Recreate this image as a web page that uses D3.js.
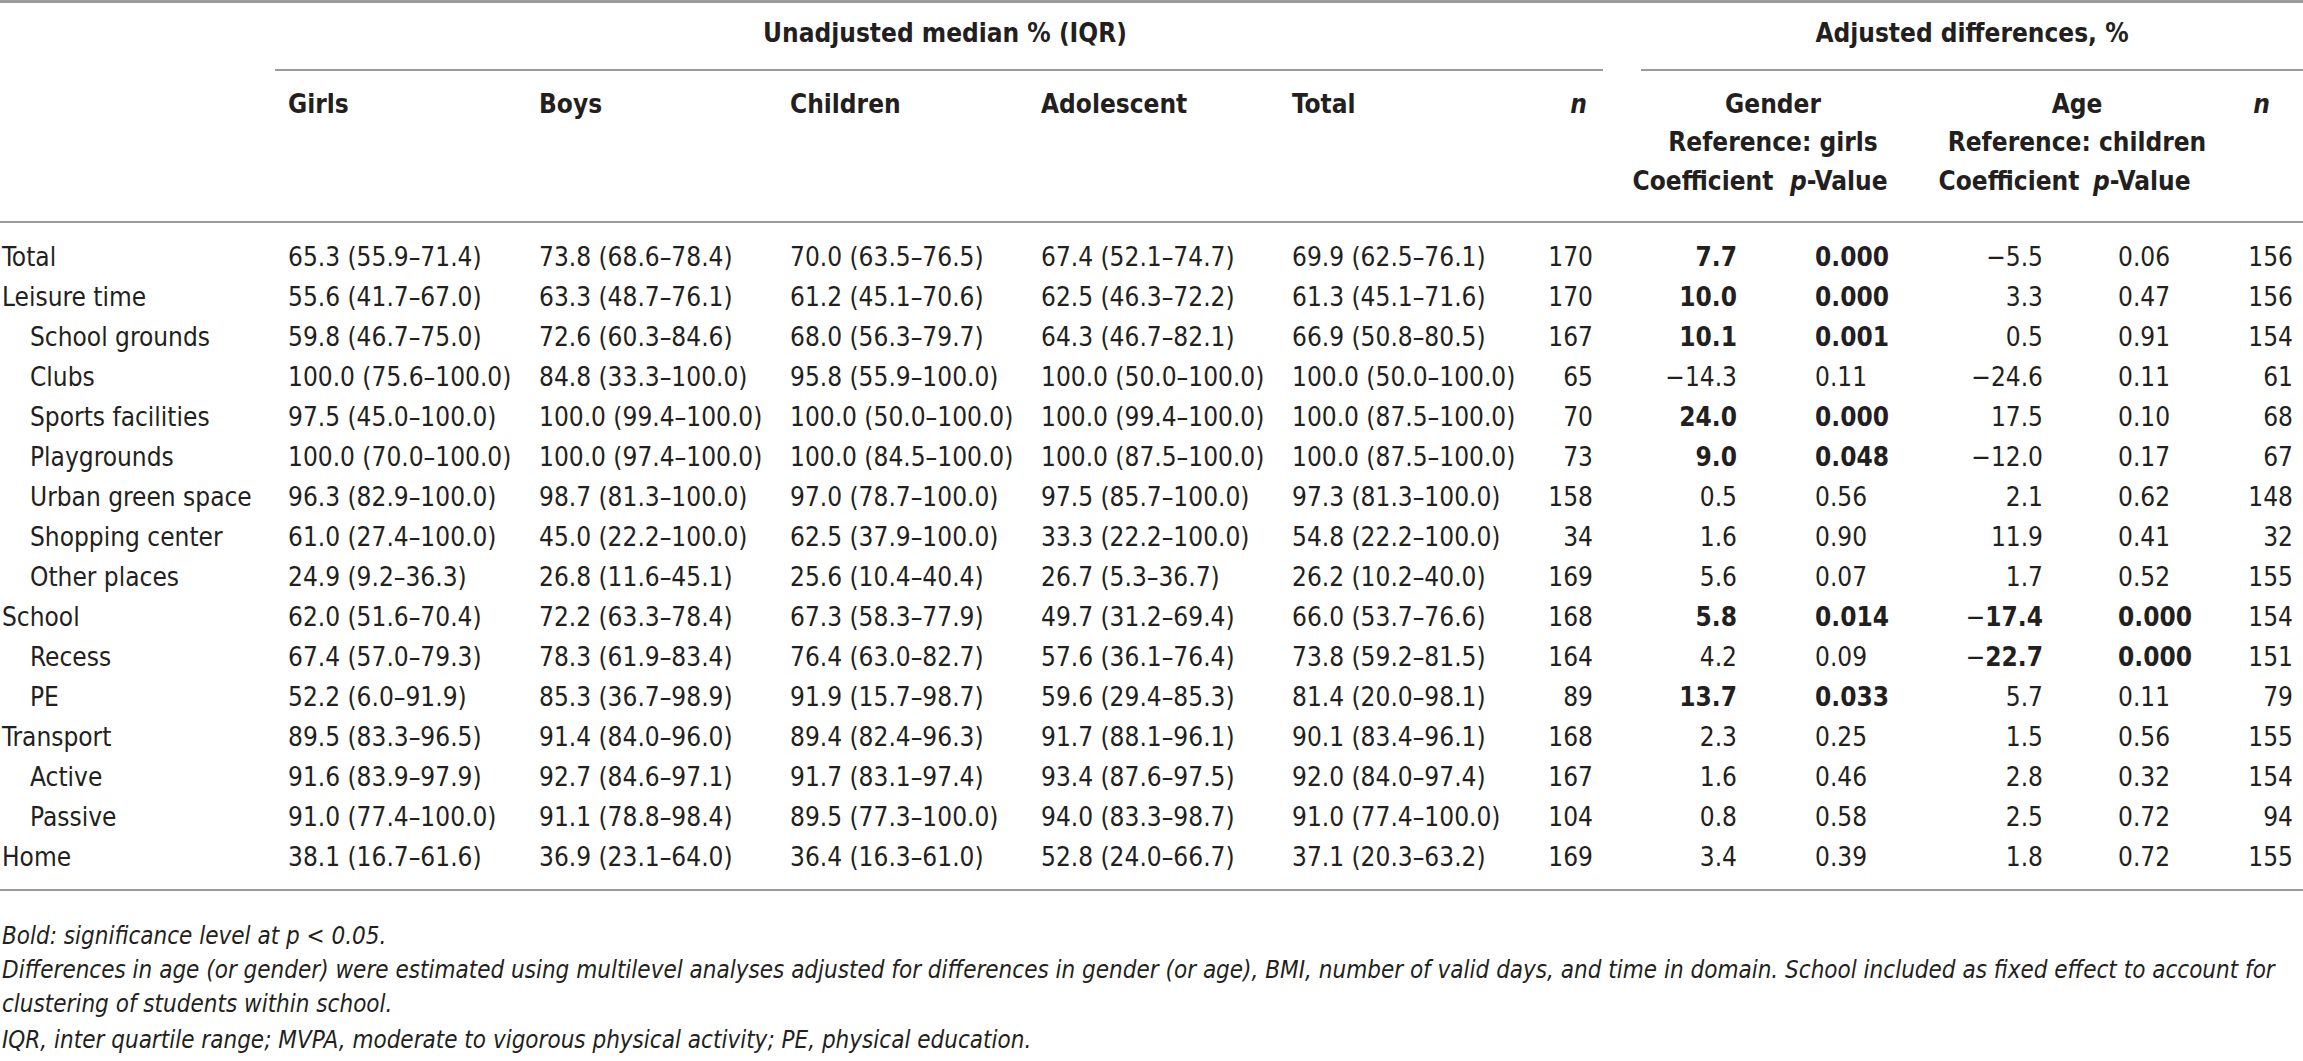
<!DOCTYPE html>
<html>
<head>
<meta charset="utf-8">
<script src="https://cdn.jsdelivr.net/npm/d3@7"></script>
<style>
  html, body { margin: 0; padding: 0; background: #fff; }
  svg { display: block; font-family: "Liberation Sans Narrow", "Arial Narrow", "DejaVu Sans Condensed", sans-serif; }
</style>
</head>
<body>
<div id="chart"></div>
<script>
// table contents
const rowLabels = ['Total', 'Leisure time', 'School grounds', 'Clubs', 'Sports facilities', 'Playgrounds',
  'Urban green space', 'Shopping center', 'Other places', 'School', 'Recess', 'PE', 'Transport',
  'Active', 'Passive', 'Home'];
const rowLevel = [0, 0, 1, 1, 1, 1, 1, 1, 1, 0, 1, 1, 0, 1, 1, 0];

const girls = ['65.3 (55.9–71.4)', '55.6 (41.7–67.0)', '59.8 (46.7–75.0)', '100.0 (75.6–100.0)', '97.5 (45.0–100.0)',
  '100.0 (70.0–100.0)', '96.3 (82.9–100.0)', '61.0 (27.4–100.0)', '24.9 (9.2–36.3)', '62.0 (51.6–70.4)',
  '67.4 (57.0–79.3)', '52.2 (6.0–91.9)', '89.5 (83.3–96.5)', '91.6 (83.9–97.9)', '91.0 (77.4–100.0)', '38.1 (16.7–61.6)'];
const boys = ['73.8 (68.6–78.4)', '63.3 (48.7–76.1)', '72.6 (60.3–84.6)', '84.8 (33.3–100.0)', '100.0 (99.4–100.0)',
  '100.0 (97.4–100.0)', '98.7 (81.3–100.0)', '45.0 (22.2–100.0)', '26.8 (11.6–45.1)', '72.2 (63.3–78.4)',
  '78.3 (61.9–83.4)', '85.3 (36.7–98.9)', '91.4 (84.0–96.0)', '92.7 (84.6–97.1)', '91.1 (78.8–98.4)', '36.9 (23.1–64.0)'];
const children = ['70.0 (63.5–76.5)', '61.2 (45.1–70.6)', '68.0 (56.3–79.7)', '95.8 (55.9–100.0)', '100.0 (50.0–100.0)',
  '100.0 (84.5–100.0)', '97.0 (78.7–100.0)', '62.5 (37.9–100.0)', '25.6 (10.4–40.4)', '67.3 (58.3–77.9)',
  '76.4 (63.0–82.7)', '91.9 (15.7–98.7)', '89.4 (82.4–96.3)', '91.7 (83.1–97.4)', '89.5 (77.3–100.0)', '36.4 (16.3–61.0)'];
const adolescent = ['67.4 (52.1–74.7)', '62.5 (46.3–72.2)', '64.3 (46.7–82.1)', '100.0 (50.0–100.0)', '100.0 (99.4–100.0)',
  '100.0 (87.5–100.0)', '97.5 (85.7–100.0)', '33.3 (22.2–100.0)', '26.7 (5.3–36.7)', '49.7 (31.2–69.4)',
  '57.6 (36.1–76.4)', '59.6 (29.4–85.3)', '91.7 (88.1–96.1)', '93.4 (87.6–97.5)', '94.0 (83.3–98.7)', '52.8 (24.0–66.7)'];
const total = ['69.9 (62.5–76.1)', '61.3 (45.1–71.6)', '66.9 (50.8–80.5)', '100.0 (50.0–100.0)', '100.0 (87.5–100.0)',
  '100.0 (87.5–100.0)', '97.3 (81.3–100.0)', '54.8 (22.2–100.0)', '26.2 (10.2–40.0)', '66.0 (53.7–76.6)',
  '73.8 (59.2–81.5)', '81.4 (20.0–98.1)', '90.1 (83.4–96.1)', '92.0 (84.0–97.4)', '91.0 (77.4–100.0)', '37.1 (20.3–63.2)'];
const nUnadjusted = [170, 170, 167, 65, 70, 73, 158, 34, 169, 168, 164, 89, 168, 167, 104, 169];

const genderCoef = ['7.7', '10.0', '10.1', '−14.3', '24.0', '9.0', '0.5', '1.6', '5.6', '5.8', '4.2', '13.7', '2.3', '1.6', '0.8', '3.4'];
const genderP = ['0.000', '0.000', '0.001', '0.11', '0.000', '0.048', '0.56', '0.90', '0.07', '0.014', '0.09', '0.033', '0.25', '0.46', '0.58', '0.39'];
const ageCoef = ['−5.5', '3.3', '0.5', '−24.6', '17.5', '−12.0', '2.1', '11.9', '1.7', '−17.4', '−22.7', '5.7', '1.5', '2.8', '2.5', '1.8'];
const ageP = ['0.06', '0.47', '0.91', '0.11', '0.10', '0.17', '0.62', '0.41', '0.52', '0.000', '0.000', '0.11', '0.56', '0.32', '0.72', '0.72'];
const nAdjusted = [156, 156, 154, 61, 68, 67, 148, 32, 155, 154, 151, 79, 155, 154, 94, 155];

const unadjHeaders = ['Girls', 'Boys', 'Children', 'Adolescent', 'Total'];
const footnotes = [
  'Bold: significance level at p < 0.05.',
  'Differences in age (or gender) were estimated using multilevel analyses adjusted for differences in gender (or age), BMI, number of valid days, and time in domain. School included as fixed effect to account for',
  'clustering of students within school.',
  'IQR, inter quartile range; MVPA, moderate to vigorous physical activity; PE, physical education.'
];

(function () {
  const width = 2303;
  const height = 1061;
  const ink = '#231f20';
  const ruleColor = '#9b9b9b';
  const fs = 26;

  const svg = d3.select('#chart').append('svg')
    .attr('width', width)
    .attr('height', height);

  const y = d3.scaleBand()
    .domain(d3.range(rowLabels.length))
    .range([237, 877]);
  const yc = (i) => y(i) + y.bandwidth() / 2;

  // unadjusted columns share a regular spacing
  const xUnadj = d3.scalePoint()
    .domain(unadjHeaders)
    .range([288, 1292]);

  const cols = {
    n1: 1593, coef1: 1737, p1: 1815, coef2: 2043, p2: 2118, n2: 2293,
    gender: 1773, age: 2077
  };

  function txt(x, yy, s, opts = {}) {
    return svg.append('text')
      .attr('x', x)
      .attr('y', yy)
      .attr('dy', '0.36em')
      .attr('fill', ink)
      .attr('font-size', opts.size || fs)
      .attr('font-weight', opts.bold ? 'bold' : null)
      .attr('font-style', opts.italic ? 'italic' : null)
      .attr('text-anchor', opts.anchor || 'start')
      .text(s);
  }

  function rule(x1, x2, yy, w) {
    svg.append('line')
      .attr('x1', x1).attr('x2', x2)
      .attr('y1', yy).attr('y2', yy)
      .attr('stroke', ruleColor)
      .attr('stroke-width', w || 2);
  }

  // rules
  rule(0, width, 1.5, 3);
  rule(275, 1603, 70);
  rule(1641, width, 70);
  rule(0, width, 222);
  rule(0, width, 890);

  // spanning headers
  txt(945, 33, 'Unadjusted median % (IQR)', { bold: true, anchor: 'middle' });
  txt(1972, 33, 'Adjusted differences, %', { bold: true, anchor: 'middle' });

  // column headers
  unadjHeaders.forEach((h) => txt(xUnadj(h), 104, h, { bold: true }));
  txt(cols.n1 - 6, 104, 'n', { bold: true, italic: true, anchor: 'end' });
  txt(cols.gender, 104, 'Gender', { bold: true, anchor: 'middle' });
  txt(cols.age, 104, 'Age', { bold: true, anchor: 'middle' });
  txt(cols.n2 - 23, 104, 'n', { bold: true, italic: true, anchor: 'end' });
  txt(cols.gender, 142, 'Reference: girls', { bold: true, anchor: 'middle' });
  txt(cols.age, 142, 'Reference: children', { bold: true, anchor: 'middle' });

  [[cols.coef1, cols.p1], [cols.coef2, cols.p2]].forEach(([c, p]) => {
    txt(c - 34, 181, 'Coefficient', { bold: true, anchor: 'middle' });
    const t = txt(p - 25, 181, '', { bold: true });
    t.append('tspan').attr('font-style', 'italic').text('p');
    t.append('tspan').text('-Value');
  });

  // body
  rowLabels.forEach((lab, i) => {
    txt(rowLevel[i] ? 30 : 2, yc(i), lab);
  });

  [girls, boys, children, adolescent, total].forEach((col, j) => {
    col.forEach((v, i) => txt(xUnadj(unadjHeaders[j]), yc(i), v));
  });
  nUnadjusted.forEach((v, i) => txt(cols.n1, yc(i), v, { anchor: 'end' }));
  nAdjusted.forEach((v, i) => txt(cols.n2, yc(i), v, { anchor: 'end' }));

  // coefficient cells: bold when significant, minus sign stays regular
  function coefCell(x, i, v, sig) {
    const t = txt(x, yc(i), '', { anchor: 'end' });
    let body = v;
    if (v.startsWith('−')) {
      t.append('tspan').text('−');
      body = v.slice(1);
    }
    t.append('tspan').attr('font-weight', sig ? 'bold' : null).text(body);
  }

  genderCoef.forEach((v, i) => coefCell(cols.coef1, i, v, +genderP[i] < 0.05));
  ageCoef.forEach((v, i) => coefCell(cols.coef2, i, v, +ageP[i] < 0.05));
  genderP.forEach((v, i) => txt(cols.p1, yc(i), v, { bold: +v < 0.05 }));
  ageP.forEach((v, i) => txt(cols.p2, yc(i), v, { bold: +v < 0.05 }));

  // footnotes, squeezed if a line would run past the right edge
  const noteY = [935, 969, 1003, 1039];
  footnotes.forEach((s, i) => {
    const t = txt(2, noteY[i], s, { italic: true, size: 24 });
    if (t.node().getComputedTextLength() > width - 12) {
      t.attr('textLength', width - 12).attr('lengthAdjust', 'spacingAndGlyphs');
    }
  });
})();
</script>
</body>
</html>
